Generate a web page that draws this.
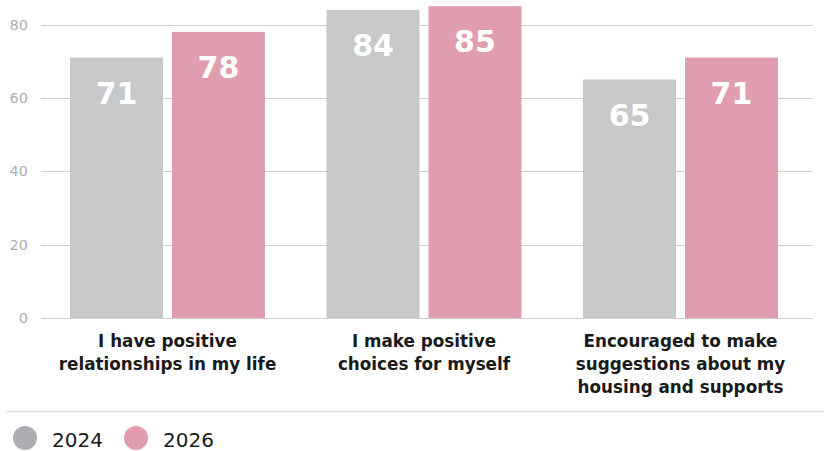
<!DOCTYPE html>
<html>
<head>
<meta charset="utf-8">
<script src="https://cdn.jsdelivr.net/npm/d3@7"></script>
<style>
  body { margin: 0; background: #fff; }
  text { font-family: 'DejaVu Sans', sans-serif; }
</style>
</head>
<body>
<div id="chart"></div>
<script>
const categories = [
  ['I have positive', 'relationships in my life'],
  ['I make positive', 'choices for myself'],
  ['Encouraged to make', 'suggestions about my', 'housing and supports']
]
const years = ['2024', '2026']
const values2024 = [71, 84, 65]
const values2026 = [78, 85, 71]
const yTicks = [0, 20, 40, 60, 80]

const barColors = { '2024': '#c7c8ca', '2026': '#e09daf' }
const legendColors = { '2024': '#adaeb2', '2026': '#e09daf' }

const width = 824
const height = 451

const svg = d3
  .select('#chart')
  .append('svg')
  .attr('width', width)
  .attr('height', height)

const data = categories.map((c, i) => ({
  label: c,
  values: [
    { year: '2024', value: values2024[i] },
    { year: '2026', value: values2026[i] }
  ]
}))

const x0 = d3
  .scaleBand()
  .domain(d3.range(categories.length))
  .range([39.25, 808.75])
  .paddingInner(0.24)
  .paddingOuter(0.12)

const x1 = d3
  .scaleBand()
  .domain(years)
  .range([0, x0.bandwidth()])
  .paddingInner(0.088)

const y = d3
  .scaleLinear()
  .domain([0, 80])
  .range([318, 24.5])

// gridlines + tick labels
const grid = svg.append('g')
grid
  .selectAll('line')
  .data(yTicks)
  .enter()
  .append('line')
  .attr('x1', 41)
  .attr('x2', 813)
  .attr('y1', d => Math.round(y(d)) + 0.5)
  .attr('y2', d => Math.round(y(d)) + 0.5)
  .attr('stroke', '#cfcfcf')
  .attr('stroke-width', 1.2)

grid
  .selectAll('text')
  .data(yTicks)
  .enter()
  .append('text')
  .attr('x', 28)
  .attr('y', d => y(d))
  .attr('dy', '0.35em')
  .attr('text-anchor', 'end')
  .attr('fill', '#aeaeae')
  .style('font-size', '14.5px')
  .text(d => d)

// bars
const groups = svg
  .selectAll('.group')
  .data(data)
  .enter()
  .append('g')
  .attr('class', 'group')
  .attr('transform', (d, i) => 'translate(' + x0(i) + ',0)')

groups
  .selectAll('rect')
  .data(d => d.values)
  .enter()
  .append('rect')
  .attr('x', d => x1(d.year))
  .attr('width', x1.bandwidth())
  .attr('y', d => y(d.value))
  .attr('height', d => y(0) - y(d.value))
  .attr('fill', d => barColors[d.year])

groups
  .selectAll('.val')
  .data(d => d.values)
  .enter()
  .append('text')
  .attr('class', 'val')
  .attr('x', d => x1(d.year) + x1.bandwidth() / 2)
  .attr('y', d => y(d.value) + 46)
  .attr('text-anchor', 'middle')
  .attr('fill', '#fff')
  .style('font-size', '30px')
  .style('font-weight', 'bold')
  .text(d => d.value)

// category labels
groups
  .append('text')
  .attr('text-anchor', 'middle')
  .attr('fill', '#1a1a1a')
  .style('font-size', '16.8px')
  .style('font-weight', 'bold')
  .selectAll('tspan')
  .data(d => d.label)
  .enter()
  .append('tspan')
  .attr('x', x0.bandwidth() / 2)
  .attr('y', (d, i) => 347 + i * 23)
  .text(d => d)

// separator
svg
  .append('line')
  .attr('x1', 7)
  .attr('x2', width)
  .attr('y1', 411.5)
  .attr('y2', 411.5)
  .attr('stroke', '#dcdcdc')
  .attr('stroke-width', 1.5)

// legend
const legendX = [25, 136]
const legend = svg
  .selectAll('.legend')
  .data(years)
  .enter()
  .append('g')
  .attr('class', 'legend')
  .attr('transform', (d, i) => 'translate(' + legendX[i] + ',438)')

legend
  .append('circle')
  .attr('r', 12)
  .attr('fill', d => legendColors[d])

legend
  .append('text')
  .attr('x', 27)
  .attr('y', 9)
  .attr('fill', '#1a1a1a')
  .style('font-size', '20px')
  .text(d => d)
</script>
</body>
</html>
